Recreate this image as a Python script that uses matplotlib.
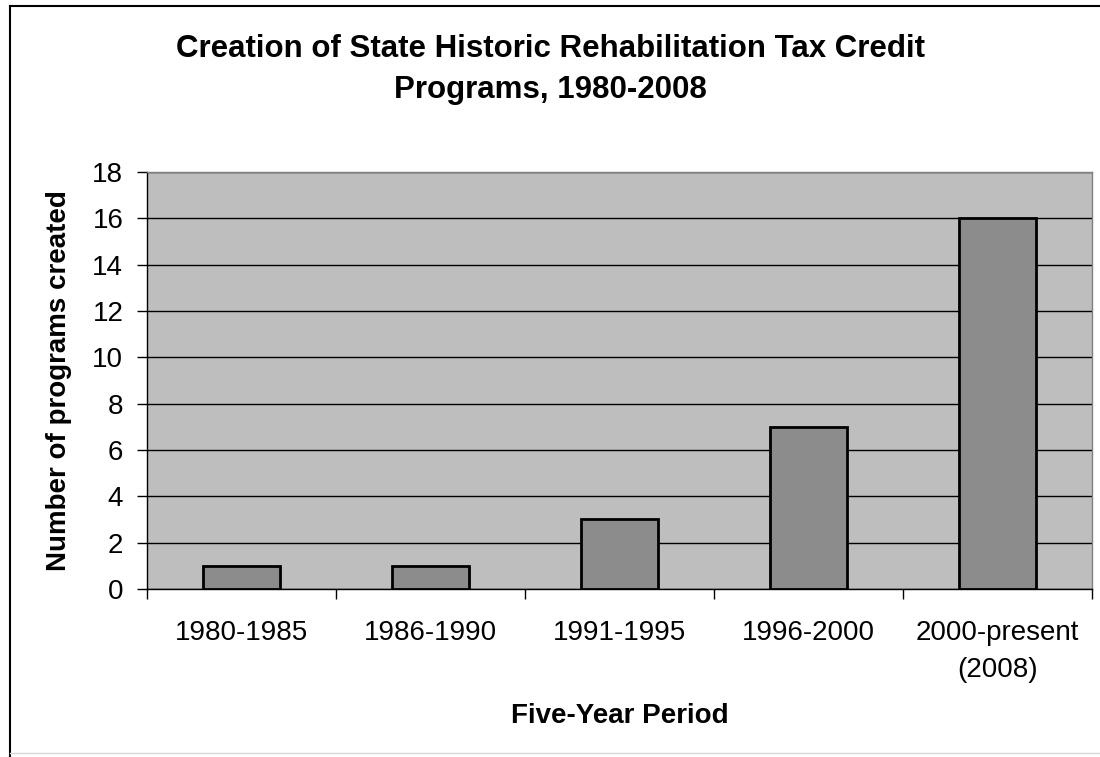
import matplotlib.pyplot as plt
from matplotlib.lines import Line2D

plt.rcParams['font.family'] = ['Liberation Sans', 'DejaVu Sans']

periods = ['1980-1985', '1986-1990', '1991-1995', '1996-2000', '2000-present\n(2008)']
programs = [1, 1, 3, 7, 16]

fig = plt.figure(figsize=(11, 7.57), dpi=100)
ax = fig.add_axes([0.1336, 0.222, 0.8591, 0.5508])

ax.set_facecolor('#bebebe')
x = range(len(periods))
ax.bar(x, programs, width=0.41, color='#8c8c8c', edgecolor='black', linewidth=2, zorder=3)

ax.set_xlim(-0.5, len(periods) - 0.5)
ax.set_ylim(0, 18)
ax.set_yticks(range(0, 19, 2))
ax.yaxis.grid(True, color='black', linewidth=1)
ax.set_axisbelow(True)

ax.set_xticks(x)
ax.set_xticklabels(periods, fontsize=20, linespacing=1.55)
ax.set_xticks([i - 0.5 for i in range(len(periods) + 1)], minor=True)
ax.tick_params(axis='x', which='major', length=0, pad=22)
ax.tick_params(axis='x', which='minor', length=7, width=1, direction='out')
ax.tick_params(axis='y', labelsize=20, length=7, width=1, direction='out', pad=10)

for s in ['top', 'right']:
    ax.spines[s].set_color('#808080')
    ax.spines[s].set_linewidth(1)
for s in ['left', 'bottom']:
    ax.spines[s].set_color('black')
    ax.spines[s].set_linewidth(1)

ax.set_ylabel('Number of programs created', fontsize=20, fontweight='bold', labelpad=15)
ax.set_xlabel('Five-Year Period', fontsize=20, fontweight='bold', labelpad=15)

fig.text(0.5, 0.9085, 'Creation of State Historic Rehabilitation Tax Credit\nPrograms, 1980-2008',
         ha='center', va='center', fontsize=22.5, fontweight='bold', linespacing=1.5)

# outer chart frame
fig.add_artist(Line2D([0.009, 0.009], [0.0, 0.992], transform=fig.transFigure, color='black', linewidth=1.5))
fig.add_artist(Line2D([0.009, 1.0], [0.992, 0.992], transform=fig.transFigure, color='black', linewidth=1.5))
fig.add_artist(Line2D([0.009, 1.0], [0.005, 0.005], transform=fig.transFigure, color='#d8d8d8', linewidth=1))

fig.savefig('out.png', dpi=100, facecolor='white')
